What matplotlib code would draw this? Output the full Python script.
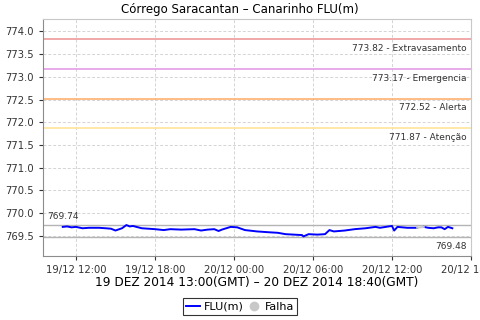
import matplotlib.pyplot as plt
import matplotlib.dates as mdates
from matplotlib.lines import Line2D
import pandas as pd

# measured level, local time (GMT-2)
times = pd.to_datetime([
    "2014-12-19 11:00", "2014-12-19 11:20", "2014-12-19 11:40", "2014-12-19 12:00",
    "2014-12-19 12:30", "2014-12-19 13:00", "2014-12-19 13:45", "2014-12-19 14:15",
    "2014-12-19 14:40", "2014-12-19 15:00", "2014-12-19 15:30", "2014-12-19 15:50",
    "2014-12-19 16:05", "2014-12-19 16:20", "2014-12-19 17:00", "2014-12-19 18:00",
    "2014-12-19 18:40", "2014-12-19 19:10", "2014-12-19 20:00", "2014-12-19 21:00",
    "2014-12-19 21:30", "2014-12-19 22:00", "2014-12-19 22:30", "2014-12-19 22:50",
    "2014-12-19 23:05", "2014-12-19 23:45", "2014-12-20 00:15", "2014-12-20 00:50",
    "2014-12-20 01:45", "2014-12-20 02:45", "2014-12-20 03:20", "2014-12-20 03:55",
    "2014-12-20 05:10", "2014-12-20 05:17", "2014-12-20 05:40", "2014-12-20 06:20",
    "2014-12-20 06:55", "2014-12-20 07:15", "2014-12-20 07:35", "2014-12-20 08:25",
    "2014-12-20 09:10", "2014-12-20 10:00", "2014-12-20 10:45", "2014-12-20 11:05",
    "2014-12-20 11:45", "2014-12-20 12:00", "2014-12-20 12:10", "2014-12-20 12:25",
    "2014-12-20 13:10", "2014-12-20 13:55",
])
levels = [
    769.70, 769.71, 769.69, 769.70,
    769.67, 769.68, 769.68, 769.67,
    769.66, 769.62, 769.67, 769.74,
    769.71, 769.72, 769.67, 769.65,
    769.63, 769.65, 769.64, 769.65,
    769.62, 769.64, 769.65, 769.61,
    769.64, 769.70, 769.69, 769.63,
    769.60, 769.58, 769.57, 769.54,
    769.52, 769.49, 769.54, 769.53,
    769.54, 769.63, 769.60, 769.62,
    769.65, 769.67, 769.70, 769.68,
    769.71, 769.72, 769.62, 769.70,
    769.68, 769.68,
]
times2 = pd.to_datetime([
    "2014-12-20 14:25", "2014-12-20 14:45", "2014-12-20 15:10", "2014-12-20 15:30",
    "2014-12-20 15:45", "2014-12-20 16:00", "2014-12-20 16:15", "2014-12-20 16:35",
])
levels2 = [769.70, 769.68, 769.67, 769.69, 769.69, 769.65, 769.70, 769.67]

# failure (gap) segment
gap_times = pd.to_datetime(["2014-12-20 13:55", "2014-12-20 14:25"])
gap_levels = [769.68, 769.70]

thresholds = [773.82, 773.17, 772.52, 771.87]
threshold_names = ["Extravasamento", "Emergencia", "Alerta", "Atenção"]
threshold_colors = ["#ee9a9a", "#e49ce8", "#ffb070", "#ffe49a"]
max_val = 769.74
min_val = 769.48

fig = plt.figure(figsize=(4.8, 3.2), dpi=100)
ax = fig.add_axes([43 / 480, 1 - 256 / 320, 428 / 480, 237 / 320])

ax.set_xlim(pd.Timestamp("2014-12-19 09:30"), pd.Timestamp("2014-12-20 18:00"))
ax.set_ylim(769.06, 774.27)

ax.grid(True, color="#d4d4d4", linestyle=(0, (3, 2)), linewidth=0.7)
ax.set_axisbelow(True)

for val, name, c in zip(thresholds, threshold_names, threshold_colors):
    ax.axhline(val, color=c, linewidth=1.2)
    ax.annotate(f"{val:.2f} - {name}", xy=(1, val), xycoords=("axes fraction", "data"),
                xytext=(-3, -3.5), textcoords="offset points", ha="right", va="top",
                fontsize=6.5, color="#333333")

ax.axhline(max_val, color="#b4b4b4", linewidth=1)
ax.axhline(min_val, color="#b4b4b4", linewidth=1)
ax.annotate(f"{max_val:.2f}", xy=(0, max_val), xycoords=("axes fraction", "data"),
            xytext=(3, 3), textcoords="offset points", ha="left", va="bottom",
            fontsize=6.5, color="#333333")
ax.annotate(f"{min_val:.2f}", xy=(1, min_val), xycoords=("axes fraction", "data"),
            xytext=(-3, -4), textcoords="offset points", ha="right", va="top",
            fontsize=6.5, color="#333333")

ax.plot(times, levels, color="#0000ff", linewidth=1.4)
ax.plot(times2, levels2, color="#0000ff", linewidth=1.4)
ax.plot(gap_times, gap_levels, color="#c8c8c8", linewidth=1.4)

ax.set_yticks([769.5, 770.0, 770.5, 771.0, 771.5, 772.0, 772.5, 773.0, 773.5, 774.0])
ax.yaxis.set_major_formatter(plt.FormatStrFormatter("%.1f"))
ax.xaxis.set_major_locator(mdates.HourLocator(byhour=[0, 6, 12, 18]))
ax.xaxis.set_major_formatter(mdates.DateFormatter("%d/%m %H:%M"))
ax.tick_params(labelsize=7.2, colors="#333333", length=3, width=0.8, direction="out")
for lbl in ax.get_xticklabels():
    lbl.set_clip_on(False)

for s in ["left", "bottom"]:
    ax.spines[s].set_color("#8c8c8c")
for s in ["top", "right"]:
    ax.spines[s].set_color("#c8c8c8")

ax.set_xlabel("19 DEZ 2014 13:00(GMT) – 20 DEZ 2014 18:40(GMT)", fontsize=8.7, labelpad=1)
fig.suptitle("Córrego Saracantan – Canarinho FLU(m)", fontsize=8.5, y=0.99, x=0.5)

handles = [Line2D([0], [0], color="#0000ff", linewidth=1.4),
           Line2D([0], [0], marker="o", color="none", markerfacecolor="#c8c8c8",
                  markeredgecolor="#c8c8c8", markersize=6)]
leg = fig.legend(handles, ["FLU(m)", "Falha"], loc="lower center", bbox_to_anchor=(0.5, 0.005),
                 ncol=2, fontsize=8, frameon=True, fancybox=False, handlelength=1.3,
                 handletextpad=0.3, columnspacing=0.3, borderpad=0.3, borderaxespad=0.3)
leg.get_frame().set_edgecolor("black")
leg.get_frame().set_linewidth(0.8)

fig.savefig("out.png", dpi=100)
